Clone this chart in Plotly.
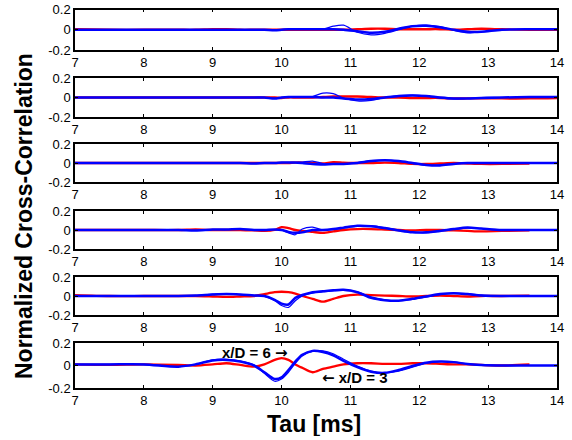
import plotly.graph_objects as go

# Lag axis (ms) shared by all six panels
TAU = [7.0, 7.5, 8.0, 8.5, 8.75, 9.0, 9.2, 9.4, 9.6, 9.75, 9.9, 10.0, 10.1, 10.2,
       10.3, 10.45, 10.6, 10.75, 10.9, 11.1, 11.3, 11.5, 11.7, 11.9, 12.1, 12.3,
       12.5, 12.7, 12.9, 13.2, 13.6, 14.0]

# Panel 1
p1_red = [0.005, 0.0, 0.0, 0.0, 0.0, 0.005, 0.005, 0.0, 0.0, 0.0, 0.0, 0.0, 0.0, 0.0,
          0.0, 0.0, 0.0, 0.0, 0.0, 0.005, 0.01, 0.01, 0.005, 0.005, 0.005, 0.005,
          0.0, 0.005, 0.01, 0.005, 0.0, 0.0]
p1_blue = [0.0, 0.0, 0.0, 0.0, 0.0, 0.0, 0.0, 0.0, 0.0, 0.0, -0.005, 0.0, 0.005, 0.005,
           0.005, 0.005, 0.005, 0.005, 0.0, -0.015, -0.03, -0.02, 0.01, 0.035, 0.04, 0.025,
           0.0, -0.02, -0.02, 0.0, 0.005, 0.005]
p1_blue_b = [0.0, 0.0, 0.0, 0.0, 0.0, 0.0, 0.0, 0.0, 0.0, 0.0, -0.005, 0.0, 0.005, 0.005,
             0.005, 0.005, 0.005, 0.035, 0.045, -0.025, -0.05, -0.035, 0.0, 0.035, 0.045, 0.03,
             -0.005, -0.03, -0.02, 0.0, 0.005, 0.005]

# Panel 2
p2_red = [0.0, 0.0, 0.0, 0.0, 0.0, 0.0, 0.0, 0.0, 0.0, 0.0, 0.0, -0.005, 0.0, 0.0,
          0.0, 0.0, 0.005, 0.01, 0.01, 0.01, 0.005, 0.0, 0.0, -0.005, -0.005, -0.005,
          -0.01, -0.01, -0.01, -0.01, -0.01, -0.005]
p2_blue = [0.0, 0.0, 0.0, 0.0, 0.0, 0.0, 0.0, 0.0, 0.0, 0.0, -0.01, 0.0, 0.005, 0.005,
           0.005, 0.005, 0.0, 0.0, -0.01, -0.02, -0.015, 0.0, 0.015, 0.02, 0.015, 0.0,
           -0.01, -0.01, -0.005, 0.0, 0.005, 0.005]
p2_blue_b = [0.0, 0.0, 0.0, 0.0, 0.0, 0.0, 0.0, 0.0, 0.0, 0.0, -0.01, 0.0, 0.005, 0.005,
             0.005, 0.01, 0.045, 0.04, -0.005, -0.035, -0.03, 0.0, 0.02, 0.025, 0.015, -0.005,
             -0.015, -0.01, 0.0, 0.0, 0.005, 0.005]

# Panel 3
p3_red = [0.0, 0.0, 0.0, 0.0, 0.0, 0.0, 0.0, 0.0, 0.0, 0.0, 0.0, 0.0, 0.0, 0.005,
          0.005, 0.0, -0.005, 0.01, 0.005, 0.0, 0.0, 0.005, 0.0, -0.01, -0.01, -0.005,
          0.0, -0.005, -0.01, -0.01, -0.005, None]
p3_blue = [0.0, 0.0, 0.0, 0.0, 0.0, 0.0, 0.0, 0.0, -0.005, 0.0, 0.0, 0.005, 0.005, 0.005,
           0.0, -0.01, -0.015, -0.01, -0.01, 0.0, 0.02, 0.03, 0.02, 0.0, -0.02, -0.025,
           -0.01, 0.0, 0.0, 0.0, 0.0, 0.0]
p3_blue_b = [0.0, 0.0, 0.0, 0.0, 0.0, 0.0, 0.0, 0.0, -0.005, 0.0, 0.0, 0.005, 0.005, 0.005,
             0.01, 0.02, -0.005, -0.015, -0.01, 0.005, 0.025, 0.03, 0.02, -0.005, -0.025, -0.02,
             -0.01, 0.0, 0.0, 0.0, 0.0, 0.0]

# Panel 4
p4_red = [0.0, 0.0, 0.0, 0.0, 0.005, 0.0, 0.0, 0.0, -0.005, -0.01, 0.0, 0.03, 0.02, 0.0,
          -0.01, -0.02, -0.03, -0.015, 0.0, 0.01, 0.01, 0.005, 0.0, -0.005, 0.0, 0.0,
          -0.005, -0.01, -0.015, -0.01, -0.005, None]
p4_blue = [0.0, 0.0, 0.0, 0.0, -0.005, 0.005, 0.005, 0.01, 0.0, 0.0, 0.005, 0.0, -0.02, -0.03,
           -0.025, 0.0, 0.0, 0.01, 0.025, 0.045, 0.04, 0.02, -0.005, -0.025, -0.025, -0.01,
           0.01, 0.025, 0.015, 0.0, 0.0, 0.0]
p4_blue_b = [0.0, 0.0, 0.0, 0.0, -0.005, 0.005, 0.005, 0.01, 0.0, 0.0, 0.005, 0.0, -0.03, -0.05,
             0.01, 0.03, 0.0, 0.005, 0.02, 0.04, 0.045, 0.025, 0.0, -0.02, -0.03, -0.015,
             0.005, 0.02, 0.015, 0.0, 0.0, 0.0]

# Panel 5
p5_red = [0.01, 0.0, 0.0, 0.0, 0.0, -0.005, -0.01, -0.005, 0.0, 0.02, 0.04, 0.045, 0.04, 0.025,
          0.0, -0.03, -0.06, -0.03, 0.0, 0.015, 0.01, 0.005, 0.0, -0.005, 0.0, 0.005,
          0.0, -0.005, 0.0, 0.0, 0.005, None]
p5_blue = [0.0, 0.0, 0.0, 0.0, 0.005, 0.015, 0.02, 0.015, 0.005, 0.0, -0.04, -0.08, -0.09, -0.02,
           0.01, 0.04, 0.05, 0.06, 0.065, 0.04, -0.02, -0.045, -0.05, -0.03, -0.005, 0.02,
           0.03, 0.02, 0.005, 0.0, 0.0, 0.0]
p5_blue_b = [0.0, 0.0, 0.0, 0.0, 0.005, 0.02, 0.025, 0.015, 0.005, -0.005, -0.05, -0.1, -0.12, -0.05,
             0.0, 0.03, 0.045, 0.055, 0.06, 0.045, -0.01, -0.04, -0.05, -0.035, -0.01, 0.015,
             0.03, 0.025, 0.01, 0.0, 0.0, 0.0]

# Panel 6
p6_red = [0.01, 0.005, 0.01, 0.005, 0.0, 0.01, 0.02, 0.005, -0.01, 0.01, 0.05, 0.065, 0.05, 0.01,
          -0.02, -0.06, -0.03, -0.01, 0.01, 0.02, 0.02, 0.015, 0.015, 0.02, 0.02, 0.015,
          0.01, 0.01, 0.005, 0.0, 0.01, None]
p6_blue = [0.01, 0.01, 0.01, -0.01, 0.01, 0.045, 0.05, 0.035, 0.0, -0.06, -0.12, -0.105, -0.04, 0.035,
           0.095, 0.13, 0.12, 0.09, 0.04, -0.015, -0.055, -0.065, -0.04, -0.005, 0.025, 0.035,
           0.03, 0.013, 0.005, 0.0, 0.0, 0.0]
p6_blue_b = [0.01, 0.01, 0.01, -0.01, 0.01, 0.05, 0.055, 0.04, 0.005, -0.07, -0.14, -0.12, -0.06, 0.02,
             0.085, 0.125, 0.13, 0.105, 0.055, -0.005, -0.05, -0.065, -0.05, -0.015, 0.02, 0.035,
             0.03, 0.015, 0.005, 0.0, 0.0, 0.0]

PANELS = [
    (p1_red, p1_blue, p1_blue_b),
    (p2_red, p2_blue, p2_blue_b),
    (p3_red, p3_blue, p3_blue_b),
    (p4_red, p4_blue, p4_blue_b),
    (p5_red, p5_blue, p5_blue_b),
    (p6_red, p6_blue, p6_blue_b),
]

X_TICKS = [7, 8, 9, 10, 11, 12, 13, 14]
Y_TICKS = [-0.2, 0, 0.2]
Y_TICKTEXT = ["-0.2", "0", "0.2"]

# figure a little shorter than the window so the page never scrolls
W, H = 572, 436


def px(xp):
    return xp / W


def py(yp):
    return 1 - yp / H


# panel frames in pixels (top, bottom)
FRAMES = [(9.5, 50), (78, 117), (144, 182), (211, 249), (277, 315), (343, 388)]
X_LEFT, X_RIGHT = 75, 557

FONT = "Liberation Sans, Arial, Helvetica, sans-serif"
ARROW_FONT = "DejaVu Sans"

fig = go.Figure()
for i, (red, blue, blue_b) in enumerate(PANELS, start=1):
    xa = "x" if i == 1 else f"x{i}"
    ya = "y" if i == 1 else f"y{i}"
    fig.add_trace(go.Scatter(x=TAU, y=red, mode="lines", xaxis=xa, yaxis=ya,
                             line=dict(color="#ff0000", width=2.3, shape="spline", smoothing=0.8),
                             showlegend=False, hoverinfo="skip"))
    fig.add_trace(go.Scatter(x=TAU, y=blue_b, mode="lines", xaxis=xa, yaxis=ya,
                             line=dict(color="#0000ff", width=1.2, shape="spline", smoothing=0.8),
                             showlegend=False, hoverinfo="skip"))
    fig.add_trace(go.Scatter(x=TAU, y=blue, mode="lines", xaxis=xa, yaxis=ya,
                             line=dict(color="#0000ff", width=2.5, shape="spline", smoothing=0.8),
                             showlegend=False, hoverinfo="skip"))

axis_common = dict(showline=True, linecolor="black", linewidth=1.5, mirror="ticks",
                   ticks="inside", ticklen=3, tickwidth=1, tickcolor="black",
                   showgrid=False, zeroline=False, automargin=False,
                   tickfont=dict(family=FONT, size=13, color="black"))

layout = dict(width=W, height=H, margin=dict(l=0, r=0, t=0, b=0),
              paper_bgcolor="white", plot_bgcolor="white", showlegend=False)
for i, (top, bot) in enumerate(FRAMES, start=1):
    xkey = "xaxis" if i == 1 else f"xaxis{i}"
    ykey = "yaxis" if i == 1 else f"yaxis{i}"
    anchor_y = "y" if i == 1 else f"y{i}"
    anchor_x = "x" if i == 1 else f"x{i}"
    layout[xkey] = dict(axis_common, domain=[px(X_LEFT), px(X_RIGHT)], anchor=anchor_y,
                        range=[7, 14], tickvals=X_TICKS)
    layout[ykey] = dict(axis_common, domain=[py(bot), py(top)], anchor=anchor_x,
                        range=[-0.2, 0.2], tickvals=Y_TICKS, ticktext=Y_TICKTEXT)
fig.update_layout(**layout)

fig.add_annotation(text="<b>Normalized Cross-Correlation</b>", textangle=-90,
                   x=px(24), y=py(216), xref="paper", yref="paper", showarrow=False,
                   xanchor="center", yanchor="middle",
                   font=dict(family=FONT, size=23, color="black"))
fig.add_annotation(text="<b>Tau [ms]</b>", x=px(314), y=py(424), xref="paper", yref="paper",
                   xanchor="center", yanchor="middle",
                   showarrow=False, font=dict(family=FONT, size=23, color="black"))
fig.add_annotation(text=f"<b>x/D = 6 <span style='font-family:{ARROW_FONT}'>→</span></b>",
                   x=9.61, y=0.11, xref="x6", yref="y6",
                   xanchor="center", yanchor="middle",
                   showarrow=False, font=dict(family=FONT, size=15, color="black"))
fig.add_annotation(text=f"<b><span style='font-family:{ARROW_FONT}'>←</span> x/D = 3</b>",
                   x=11.06, y=-0.11, xref="x6", yref="y6",
                   xanchor="center", yanchor="middle",
                   showarrow=False, font=dict(family=FONT, size=15, color="black"))

fig.write_html("out.html")
